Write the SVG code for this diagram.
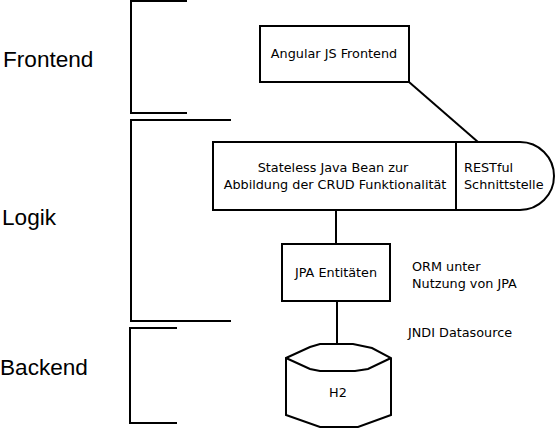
<svg xmlns="http://www.w3.org/2000/svg" width="557" height="431" viewBox="0 0 557 431">
<style>
.s{fill:none;stroke:#000;stroke-width:2}
.n{fill:#fff;stroke:#000;stroke-width:2}
text{font-family:"DejaVu Sans",sans-serif;font-size:12.8px;fill:#000}
.m{text-anchor:middle}
.b{font-family:"Liberation Sans",Arial,sans-serif;font-size:22.6px}
</style>
<rect width="557" height="431" fill="#fff"/>
<g id="connectors">
<path class="s" d="M409 82L478 142"/>
<path class="s" d="M336 210V244"/>
<path class="s" d="M337 301V344"/>
</g>
<g id="brackets">
<path class="s" d="M187 1H131V113H187"/>
<path class="s" d="M231 120H131V321H231"/>
<path class="s" d="M177 328H130V423H177"/>
</g>
<g id="frontend"><rect class="n" x="260" y="26" width="149" height="56"/><text class="m" x="334" y="58">Angular JS Frontend</text></g>
<g id="bean"><path class="n" d="M213 142H520A34 34 0 0 1 520 210H213Z"/><path class="s" d="M456 142V210"/>
<text class="m" x="333" y="172">Stateless Java Bean zur</text><text class="m" x="335" y="189">Abbildung der CRUD Funktionalität</text>
<text x="464" y="172">RESTful</text><text x="464" y="189">Schnittstelle</text></g>
<g id="jpa"><rect class="n" x="282" y="244" width="108" height="57"/><text class="m" x="336" y="277">JPA Entitäten</text></g>
<g id="h2"><path class="n" d="M286 358L310 347L320 344H353L372 348L391 358V415L358 427H320L286 415Z"/><path class="s" d="M286 358L310 369L320 371H355L368 369L391 358"/><text class="m" x="338" y="397">H2</text></g>
<g id="labels">
<text class="b" x="3" y="67">Frontend</text>
<text class="b" x="2" y="225">Logik</text>
<text class="b" x="0" y="375">Backend</text>
<text x="412" y="271">ORM unter</text><text x="412" y="288">Nutzung von JPA</text>
<text x="408" y="337">JNDI Datasource</text>
</g>
</svg>
